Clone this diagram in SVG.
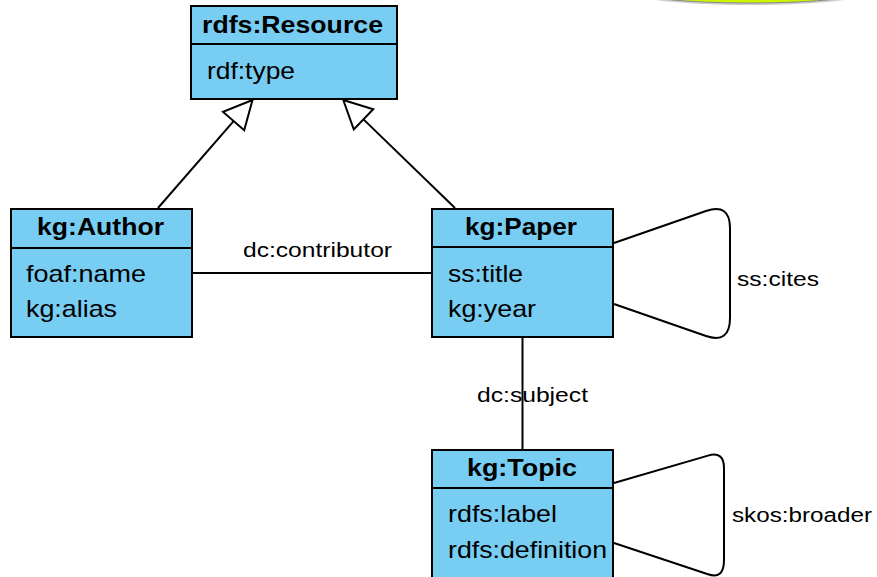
<svg xmlns="http://www.w3.org/2000/svg" width="877" height="577" viewBox="0 0 877 577">
<style>
.box{fill:#78CDF2;stroke:#000;stroke-width:2}
.div{stroke:#000;stroke-width:2}
.hd{font-family:"Liberation Sans",Arial,sans-serif;font-weight:bold;font-size:24px;fill:#000}
.at{font-family:"Liberation Sans",Arial,sans-serif;font-size:24px;fill:#000}
.lb{font-family:"Liberation Sans",Arial,sans-serif;font-size:20px;fill:#000}
.ln{fill:none;stroke:#000;stroke-width:2}
.tri{fill:#fff;stroke:#000;stroke-width:2;stroke-linejoin:miter}
</style>
<rect width="877" height="577" fill="#fff"/>
<g id="ellipse">
<ellipse cx="750" cy="-8" rx="120" ry="13" fill="#aaa" opacity="0.6"/>
<ellipse cx="750" cy="-10" rx="120" ry="13" fill="#ccf500" stroke="#888" stroke-width="1"/>
</g>
<g id="connectors">
<line class="ln" x1="158" y1="208" x2="233.6" y2="121.1"/>
<polygon class="tri" points="252.5,100 244.2,130.3 223,111.9"/>
<line class="ln" x1="455" y1="208" x2="363.5" y2="119.4"/>
<polygon class="tri" points="343.3,100 373.2,109.3 353.8,129.5"/>
<line class="ln" x1="192" y1="273" x2="432" y2="273"/>
<line class="ln" x1="522.5" y1="337" x2="522.5" y2="450"/>
<path class="ln" d="M614,243 L706,211 Q730,203 730,228 L730,318 Q730,344 706,336 L614,304"/>
<path class="ln" d="M614,483 L708,455.6 Q724,451 724,468 L724,560 Q724,579.7 708,574.3 L614,543"/>
<text class="lb" x="243" y="257" textLength="149" lengthAdjust="spacingAndGlyphs">dc:contributor</text>
<text class="lb" x="737" y="286" textLength="82" lengthAdjust="spacingAndGlyphs">ss:cites</text>
<text class="lb" x="477" y="402" textLength="111" lengthAdjust="spacingAndGlyphs">dc:subject</text>
<text class="lb" x="732" y="522" textLength="140" lengthAdjust="spacingAndGlyphs">skos:broader</text>
</g>
<g id="resource">
<rect class="box" x="191" y="6" width="206" height="93"/>
<line class="div" x1="191" y1="44" x2="397" y2="44"/>
<text class="hd" x="202" y="33" textLength="181" lengthAdjust="spacingAndGlyphs">rdfs:Resource</text>
<text class="at" x="207" y="79" textLength="88" lengthAdjust="spacingAndGlyphs">rdf:type</text>
</g>
<g id="author">
<rect class="box" x="11" y="209" width="181" height="128"/>
<line class="div" x1="11" y1="248" x2="192" y2="248"/>
<text class="hd" x="37" y="235" textLength="127" lengthAdjust="spacingAndGlyphs">kg:Author</text>
<text class="at" x="26" y="282" textLength="120" lengthAdjust="spacingAndGlyphs">foaf:name</text>
<text class="at" x="26" y="317" textLength="91" lengthAdjust="spacingAndGlyphs">kg:alias</text>
</g>
<g id="paper">
<rect class="box" x="432" y="209" width="181" height="128"/>
<line class="div" x1="432" y1="247" x2="613" y2="247"/>
<text class="hd" x="465" y="235" textLength="112" lengthAdjust="spacingAndGlyphs">kg:Paper</text>
<text class="at" x="448" y="282" textLength="75" lengthAdjust="spacingAndGlyphs">ss:title</text>
<text class="at" x="448" y="317" textLength="88" lengthAdjust="spacingAndGlyphs">kg:year</text>
</g>
<g id="topic">
<rect class="box" x="432" y="450" width="181" height="140"/>
<line class="div" x1="432" y1="488" x2="613" y2="488"/>
<text class="hd" x="467" y="476" textLength="110" lengthAdjust="spacingAndGlyphs">kg:Topic</text>
<text class="at" x="448" y="522" textLength="109" lengthAdjust="spacingAndGlyphs">rdfs:label</text>
<text class="at" x="448" y="558" textLength="159" lengthAdjust="spacingAndGlyphs">rdfs:definition</text>
</g>
</svg>
